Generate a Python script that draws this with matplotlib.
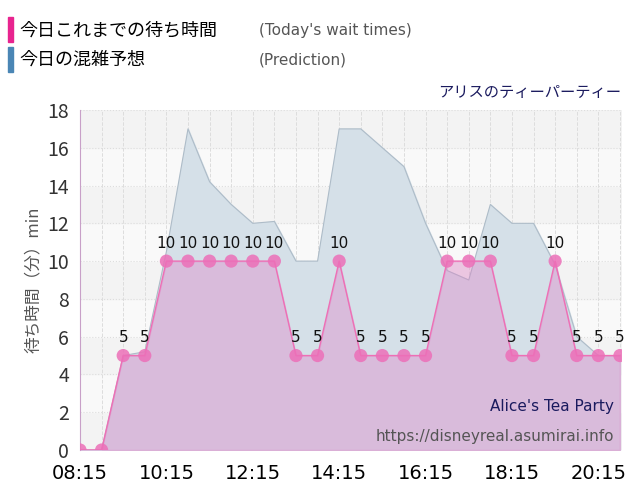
import matplotlib.pyplot as plt
from matplotlib.patches import Rectangle

plt.rcParams['font.family'] = ['Noto Sans CJK JP']

times = ['08:15', '08:45', '09:15', '09:45', '10:15', '10:45', '11:15', '11:45',
         '12:15', '12:45', '13:15', '13:45', '14:15', '14:45', '15:15', '15:45',
         '16:15', '16:45', '17:15', '17:45', '18:15', '18:45', '19:15', '19:45',
         '20:15', '20:45']
wait = [0, 0, 5, 5, 10, 10, 10, 10, 10, 10, 5, 5, 10, 5, 5, 5, 5, 10, 10, 10,
        5, 5, 10, 5, 5, 5]
predict = [0, 0, 5, 5.2, 10.5, 17, 14.2, 13, 12, 12.1, 10, 10, 17, 17, 16, 15,
           12, 9.5, 9, 13, 12, 12, 9.8, 6, 5, 5]
tick_labels = ['08:15', '10:15', '12:15', '14:15', '16:15', '18:15', '20:15']

def to_min(t):
    h, m = t.split(':')
    return int(h) * 60 + int(m)

x = [to_min(t) for t in times]
ticks = [to_min(t) for t in tick_labels]

fig = plt.figure(figsize=(6.4, 5.0), dpi=100)
ax = fig.add_axes([0.125, 0.1, 0.847, 0.68])
ax.set_xlim(x[0], x[-1] + 3)
ax.set_ylim(0, 18)

# alternating bands
for i in range(0, 18, 2):
    ax.axhspan(i, i + 2, color='#f3f3f3' if (i // 2) % 2 == 0 else '#f9f9f9', zorder=0)
ax.grid(axis='y', color='#dddddd', linestyle=':', linewidth=0.8, zorder=1)
for v in range(x[0], x[-1] + 1, 30):
    ax.axvline(v, color='#dddddd', linestyle='--', linewidth=0.7, zorder=1)

ax.fill_between(x, predict, color='#d5e0e8', zorder=2)
ax.plot(x, predict, color='#aebcc8', linewidth=0.8, zorder=2)
ax.fill_between(x, wait, color='#e07fc6', alpha=0.38, zorder=3)
ax.plot(x, wait, color='#ee6fb5', linewidth=1, zorder=4)
ax.scatter(x, wait, s=90, color='#ec6fb8', alpha=0.85, zorder=5, edgecolors='none')
for xi, w in zip(x, wait):
    if w > 0:
        ax.text(xi, w + 0.55, str(w), ha='center', va='bottom', fontsize=11,
                family='DejaVu Sans', color='#111111', zorder=6)

ax.set_xticks(ticks)
ax.set_xticklabels(tick_labels, fontsize=14, family='DejaVu Sans')
ax.set_yticks(range(0, 19, 2))
ax.tick_params(axis='y', labelsize=14, length=0, colors='#333333', pad=8)
ax.tick_params(axis='x', length=0, pad=10)
for s in ['top', 'right', 'bottom']:
    ax.spines[s].set_visible(False)
ax.spines['left'].set_color('#c8a0c8')
ax.set_ylabel('待ち時間（分）min', fontsize=12, color='#555555', labelpad=4)

ax.text(0.985, 0.115, "Alice's Tea Party", transform=ax.transAxes, ha='right',
        fontsize=11, color='#1a1a5e', family='DejaVu Sans', zorder=7)
ax.text(0.985, 0.025, 'https://disneyreal.asumirai.info', transform=ax.transAxes,
        ha='right', fontsize=11, color='#555555', family='DejaVu Sans', zorder=7)

fig.text(0.97, 0.805, 'アリスのティーパーティー', ha='right', fontsize=11, color='#1a1a5e')

fig.patches.append(Rectangle((0.012, 0.917), 0.009, 0.048, color='#e8248f', transform=fig.transFigure))
fig.patches.append(Rectangle((0.012, 0.857), 0.009, 0.048, color='#4a86b5', transform=fig.transFigure))
fig.text(0.03, 0.94, '今日これまでの待ち時間', fontsize=13, va='center')
fig.text(0.405, 0.94, "(Today's wait times)", fontsize=11, va='center', color='#555555', family='DejaVu Sans')
fig.text(0.03, 0.88, '今日の混雑予想', fontsize=13, va='center')
fig.text(0.405, 0.88, '(Prediction)', fontsize=11, va='center', color='#555555', family='DejaVu Sans')

fig.savefig('out.png', dpi=100)
